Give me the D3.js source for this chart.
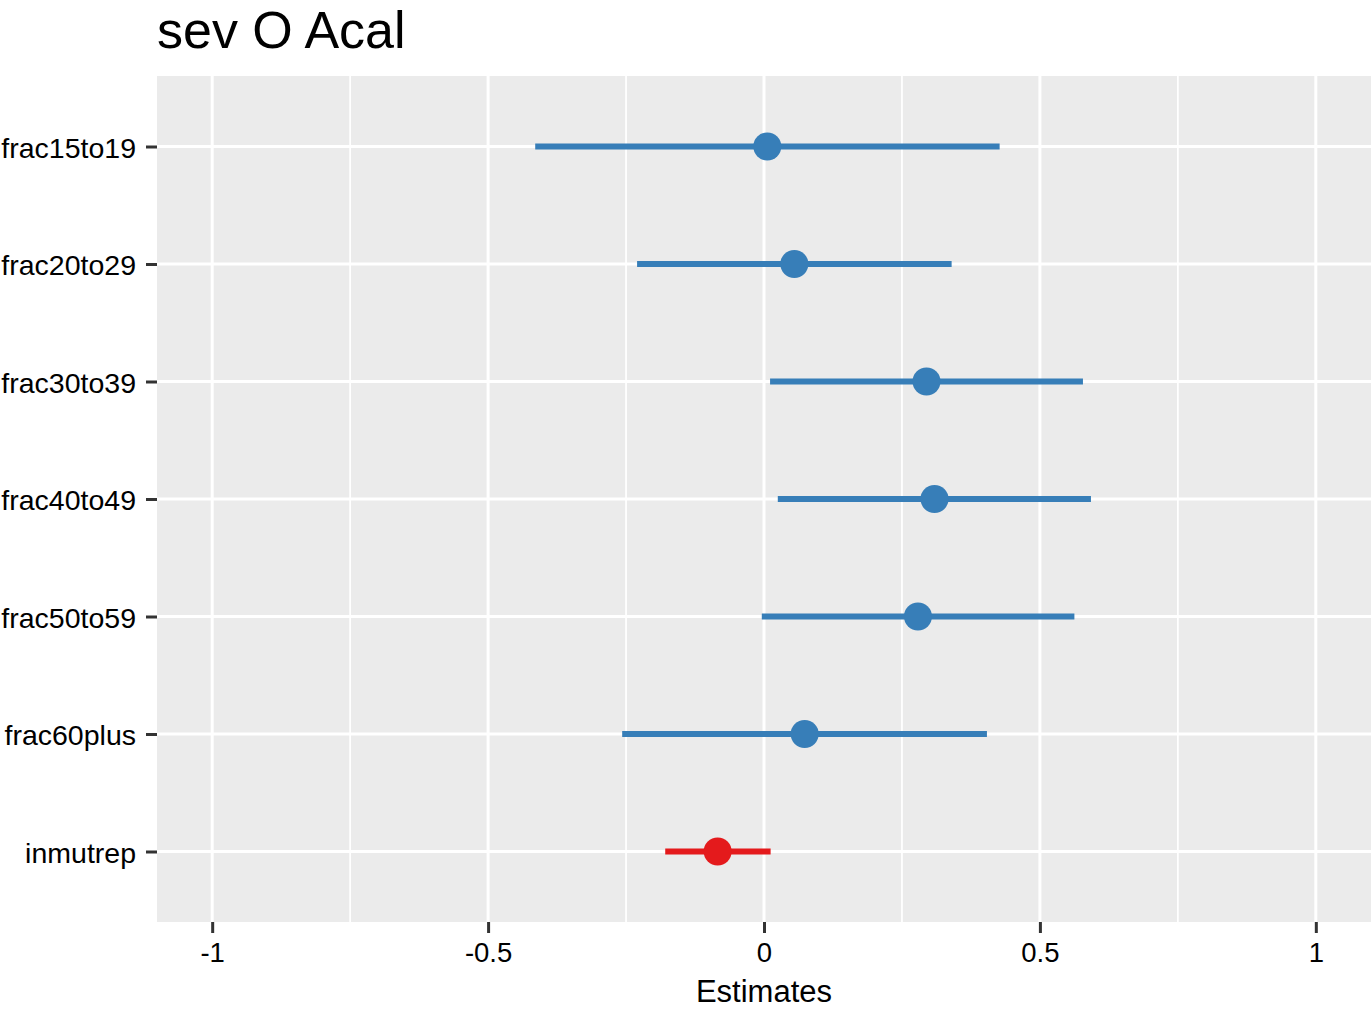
<!DOCTYPE html>
<html>
<head>
<meta charset="utf-8">
<script src="https://cdn.jsdelivr.net/npm/d3@7"></script>
<style>
  html, body { margin: 0; padding: 0; background: #fff; }
  svg { display: block; }
  text { font-family: "Liberation Sans", Arial, Helvetica, sans-serif; }
</style>
</head>
<body>
<svg id="chart" width="1371" height="1009"></svg>
<script>
// ---- data ----
const titleText = "sev O Acal";
const xTitle = "Estimates";
const terms = ["frac15to19", "frac20to29", "frac30to39", "frac40to49", "frac50to59", "frac60plus", "inmutrep"];
const estimates = [0.006, 0.055, 0.2945, 0.309, 0.279, 0.0737, -0.084];
const confLow = [-0.4146, -0.230, 0.011, 0.025, -0.004, -0.257, -0.179];
const confHigh = [0.427, 0.340, 0.578, 0.5925, 0.5625, 0.404, 0.012];
const groups = ["pos", "pos", "pos", "pos", "pos", "pos", "neg"];
const xTicks = [-1, -0.5, 0, 0.5, 1];
const xTickLabels = ["-1", "-0.5", "0", "0.5", "1"];
const xMinorTicks = [-0.75, -0.25, 0.25, 0.75];
const xDomain = [-1.1, 1.1];

// ---- layout ----
const panel = { left: 157, right: 1371, top: 76, bottom: 922 };
const svg = d3.select("#chart");

const x = d3.scaleLinear().domain(xDomain).range([panel.left, panel.right]);
const y = d3.scalePoint().domain(terms).range([panel.top, panel.bottom]).padding(0.6);
const color = d3.scaleOrdinal().domain(["pos", "neg"]).range(["#377EB8", "#E41A1C"]);

// panel background
svg.append("rect")
  .attr("x", panel.left).attr("y", panel.top)
  .attr("width", panel.right - panel.left).attr("height", panel.bottom - panel.top)
  .attr("fill", "#EBEBEB");

const grid = svg.append("g");
grid.selectAll("line.minor").data(xMinorTicks).join("line")
  .attr("class", "minor")
  .attr("x1", d => x(d)).attr("x2", d => x(d))
  .attr("y1", panel.top).attr("y2", panel.bottom)
  .attr("stroke", "#fff").attr("stroke-width", 1.8);
grid.selectAll("line.majorx").data(xTicks).join("line")
  .attr("class", "majorx")
  .attr("x1", d => x(d)).attr("x2", d => x(d))
  .attr("y1", panel.top).attr("y2", panel.bottom)
  .attr("stroke", "#fff").attr("stroke-width", 3);
grid.selectAll("line.majory").data(terms).join("line")
  .attr("class", "majory")
  .attr("x1", panel.left).attr("x2", panel.right)
  .attr("y1", d => y(d)).attr("y2", d => y(d))
  .attr("stroke", "#fff").attr("stroke-width", 3);

// data rows
const rows = terms.map((t, i) => ({ term: t, est: estimates[i], lo: confLow[i], hi: confHigh[i], g: groups[i] }));
const marks = svg.append("g");
marks.selectAll("line.ci").data(rows).join("line")
  .attr("class", "ci")
  .attr("x1", d => x(d.lo)).attr("x2", d => x(d.hi))
  .attr("y1", d => y(d.term)).attr("y2", d => y(d.term))
  .attr("stroke", d => color(d.g)).attr("stroke-width", 6).attr("stroke-linecap", "butt");
marks.selectAll("circle").data(rows).join("circle")
  .attr("cx", d => x(d.est)).attr("cy", d => y(d.term))
  .attr("r", 14).attr("fill", d => color(d.g));

// x axis
const xAxis = d3.axisBottom(x).tickValues(xTicks)
  .tickFormat((d, i) => xTickLabels[i]).tickSize(11).tickPadding(9);
const gx = svg.append("g").attr("transform", `translate(0,${panel.bottom})`).call(xAxis);
gx.select(".domain").remove();
gx.selectAll(".tick line").attr("stroke", "#333").attr("stroke-width", 3);
gx.selectAll(".tick text").attr("fill", "#000").attr("font-size", 27.5)
  .attr("font-family", "Liberation Sans, Arial, sans-serif");

// y axis
const yAxis = d3.axisLeft(y).tickSize(11).tickPadding(10);
const gy = svg.append("g").attr("transform", `translate(${panel.left},0)`).call(yAxis);
gy.select(".domain").remove();
gy.selectAll(".tick line").attr("stroke", "#333").attr("stroke-width", 3);
gy.selectAll(".tick text").attr("fill", "#000").attr("font-size", 28.5).attr("dy", "0.38em")
  .attr("font-family", "Liberation Sans, Arial, sans-serif");

// title
svg.append("text").attr("x", panel.left).attr("y", 48)
  .attr("font-size", 52).attr("fill", "#000").text(titleText);

// x axis title
svg.append("text").attr("x", (panel.left + panel.right) / 2).attr("y", 1002)
  .attr("text-anchor", "middle").attr("font-size", 31).attr("fill", "#000").text(xTitle);
</script>
</body>
</html>
